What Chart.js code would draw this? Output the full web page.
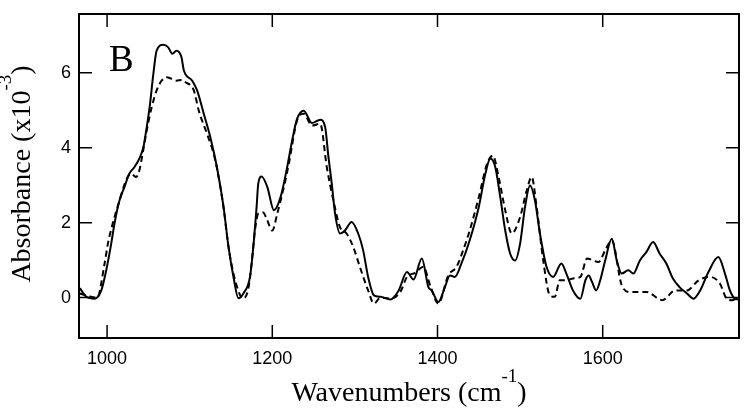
<!DOCTYPE html>
<html>
<head>
<meta charset="utf-8">
<script src="https://cdn.jsdelivr.net/npm/chart.js@4.4.0/dist/chart.umd.min.js"></script>
<style>
  html, body { margin: 0; padding: 0; background: #fff; }
</style>
</head>
<body>
<canvas id="spectrum" width="746" height="414"></canvas>
<script>
// IR difference spectra, absorbance in units of 1e-3
const solidWn = [967, 975, 985, 993, 999, 1005, 1009, 1015, 1021, 1027, 1033, 1039, 1044, 1048, 1052, 1056, 1060, 1068, 1074, 1079, 1084, 1090, 1093, 1103, 1109, 1117, 1125, 1133, 1141, 1147, 1153, 1159, 1165, 1173, 1177, 1181, 1183, 1187, 1194, 1202, 1210, 1218, 1224, 1230, 1238, 1248, 1258, 1264, 1268, 1272, 1276, 1282, 1288, 1296, 1304, 1310, 1316, 1323, 1331, 1343, 1353, 1363, 1371, 1381, 1389, 1393, 1401, 1409, 1415, 1421, 1429, 1439, 1450, 1458, 1464, 1470, 1476, 1482, 1488, 1494, 1500, 1506, 1512, 1518, 1524, 1532, 1540, 1550, 1556, 1564, 1573, 1579, 1583, 1587, 1592, 1597, 1603, 1611, 1617, 1623, 1631, 1637, 1645, 1653, 1661, 1669, 1677, 1685, 1693, 1702, 1710, 1718, 1728, 1740, 1748, 1754, 1760, 1764];
const solidAbs = [0.25, 0.02, -0.03, 0.19, 0.73, 1.44, 1.98, 2.59, 2.95, 3.31, 3.48, 3.71, 4.02, 4.55, 5.17, 5.97, 6.59, 6.75, 6.68, 6.51, 6.59, 6.42, 6.06, 5.79, 5.53, 4.91, 4.28, 3.48, 2.42, 1.35, 0.55, -0.02, 0.11, 0.55, 1.35, 2.42, 3.04, 3.23, 2.95, 2.33, 2.68, 3.48, 4.19, 4.77, 4.99, 4.66, 4.75, 4.55, 3.75, 3.04, 2.24, 1.71, 1.79, 2.02, 1.71, 1.26, 0.55, 0.06, 0.02, -0.05, 0.19, 0.68, 0.48, 1.04, 0.28, 0.19, -0.12, 0.28, 0.59, 0.55, 0.91, 1.53, 2.42, 3.31, 3.71, 3.48, 2.68, 1.79, 1.17, 0.99, 1.44, 2.42, 2.99, 2.59, 1.71, 0.82, 0.55, 0.91, 0.64, 0.19, -0.03, 0.46, 0.59, 0.42, 0.19, 0.46, 0.99, 1.57, 0.99, 0.64, 0.73, 0.64, 0.99, 1.22, 1.48, 1.17, 0.91, 0.51, 0.28, 0.11, -0.03, 0.19, 0.68, 1.08, 0.64, 0.19, -0.03, -0.05];

const dashWn = [967, 979, 988, 997, 1001, 1009, 1015, 1023, 1029, 1035, 1039, 1043, 1048, 1054, 1060, 1066, 1072, 1078, 1084, 1090, 1095, 1105, 1111, 1121, 1129, 1133, 1141, 1147, 1155, 1165, 1171, 1175, 1179, 1183, 1189, 1193, 1200, 1206, 1214, 1220, 1230, 1238, 1248, 1258, 1266, 1274, 1282, 1290, 1298, 1306, 1316, 1323, 1331, 1343, 1355, 1363, 1373, 1383, 1391, 1401, 1413, 1423, 1431, 1439, 1450, 1460, 1467, 1474, 1482, 1490, 1500, 1508, 1514, 1520, 1528, 1536, 1542, 1548, 1556, 1564, 1573, 1581, 1595, 1603, 1611, 1623, 1633, 1653, 1672, 1688, 1702, 1716, 1730, 1742, 1750, 1756, 1764];
const dashAbs = [0.11, 0.03, 0.0, 0.91, 1.44, 2.15, 2.59, 3.13, 3.31, 3.22, 3.39, 3.84, 4.46, 5.08, 5.53, 5.79, 5.88, 5.84, 5.79, 5.81, 5.75, 5.53, 4.99, 4.37, 3.84, 3.45, 2.40, 1.35, 0.46, -0.03, 0.24, 0.91, 1.79, 2.24, 2.27, 2.11, 1.79, 2.24, 2.95, 3.57, 4.73, 4.91, 4.59, 4.64, 3.48, 2.59, 1.88, 1.71, 1.35, 0.82, 0.19, -0.16, 0.0, -0.03, 0.15, 0.55, 0.66, 0.82, 0.33, -0.16, 0.59, 0.82, 1.26, 1.79, 2.68, 3.57, 3.79, 3.22, 2.33, 1.71, 2.15, 2.86, 3.22, 2.42, 0.99, 0.06, 0.02, 0.46, 0.46, 0.51, 0.55, 1.04, 0.95, 1.26, 1.53, 0.33, 0.15, 0.15, -0.07, 0.19, 0.19, 0.46, 0.55, 0.37, -0.03, -0.07, -0.02];

const xTicks = [1000, 1200, 1400, 1600];
const yTicks = [0, 2, 4, 6];

// frame, inward ticks on all four sides, panel letter, axis titles with superscripts
const framePlugin = {
  id: 'frame',
  afterDraw(chart) {
    const { ctx, chartArea: a, scales: { x, y } } = chart;
    ctx.save();
    ctx.strokeStyle = '#000';
    ctx.lineWidth = 1.5;
    ctx.beginPath();
    xTicks.forEach(v => {
      const px = x.getPixelForValue(v);
      ctx.moveTo(px, a.bottom); ctx.lineTo(px, a.bottom - 13);
      ctx.moveTo(px, a.top); ctx.lineTo(px, a.top + 13);
    });
    yTicks.forEach(v => {
      const py = y.getPixelForValue(v);
      ctx.moveTo(a.left, py); ctx.lineTo(a.left + 13, py);
      ctx.moveTo(a.right, py); ctx.lineTo(a.right - 13, py);
    });
    ctx.stroke();
    ctx.lineWidth = 2;
    ctx.strokeRect(a.left, a.top, a.right - a.left, a.bottom - a.top);

    ctx.fillStyle = '#000';
    ctx.textBaseline = 'alphabetic';
    ctx.textAlign = 'left';
    ctx.font = '37px "Liberation Serif"';
    ctx.fillText('B', 109, 71);

    // helper: main text + raised small text + closing text, centred on cx
    function titled(parts, cx, base) {
      const big = '28px "Liberation Serif"', small = '19px "Liberation Serif"';
      ctx.font = big; const w1 = ctx.measureText(parts[0]).width;
      ctx.font = small; const w2 = ctx.measureText(parts[1]).width;
      ctx.font = big; const w3 = ctx.measureText(parts[2]).width;
      let sx = cx - (w1 + w2 + w3) / 2;
      ctx.font = big; ctx.fillText(parts[0], sx, base); sx += w1;
      ctx.font = small; ctx.fillText(parts[1], sx, base - 19); sx += w2;
      ctx.font = big; ctx.fillText(parts[2], sx, base);
    }
    titled(['Wavenumbers (cm', '-1', ')'], 409, 401);

    ctx.translate(30, 174);
    ctx.rotate(-Math.PI / 2);
    titled(['Absorbance (x10', '-3', ')'], 0, 0);
    ctx.restore();
  }
};

const toPoints = (xs, ys) => xs.map((w, i) => ({ x: w, y: ys[i] }));

new Chart(document.getElementById('spectrum'), {
  type: 'scatter',
  data: {
    datasets: [
      {
        data: toPoints(solidWn, solidAbs),
        showLine: true,
        borderColor: '#000',
        borderWidth: 2,
        pointRadius: 0,
        cubicInterpolationMode: 'monotone'
      },
      {
        data: toPoints(dashWn, dashAbs),
        showLine: true,
        borderColor: '#000',
        borderWidth: 2,
        borderDash: [6, 4],
        pointRadius: 0,
        cubicInterpolationMode: 'monotone'
      }
    ]
  },
  options: {
    responsive: false,
    animation: false,
    layout: { padding: { top: 14, right: 7, left: 0, bottom: 0 } },
    plugins: { legend: { display: false }, tooltip: { enabled: false } },
    scales: {
      x: {
        type: 'linear',
        min: 966,
        max: 1765,
        afterBuildTicks: s => { s.ticks = xTicks.map(v => ({ value: v })); },
        afterFit: s => { s.height = 76; s.paddingLeft = 0; s.paddingRight = 0; },
        grid: { display: false, drawTicks: false },
        border: { display: false },
        ticks: {
          color: '#000',
          padding: 10,
          maxRotation: 0,
          font: { family: '"Liberation Sans", Arial', size: 18 },
          callback: v => String(v)
        }
      },
      y: {
        min: -1.08,
        max: 7.57,
        afterBuildTicks: s => { s.ticks = yTicks.map(v => ({ value: v })); },
        afterFit: s => { s.width = 79; s.paddingTop = 0; s.paddingBottom = 0; },
        grid: { display: false, drawTicks: false },
        border: { display: false },
        ticks: {
          color: '#000',
          padding: 8,
          font: { family: '"Liberation Sans", Arial', size: 18 },
          callback: v => String(v)
        }
      }
    }
  },
  plugins: [framePlugin]
});
</script>
</body>
</html>
